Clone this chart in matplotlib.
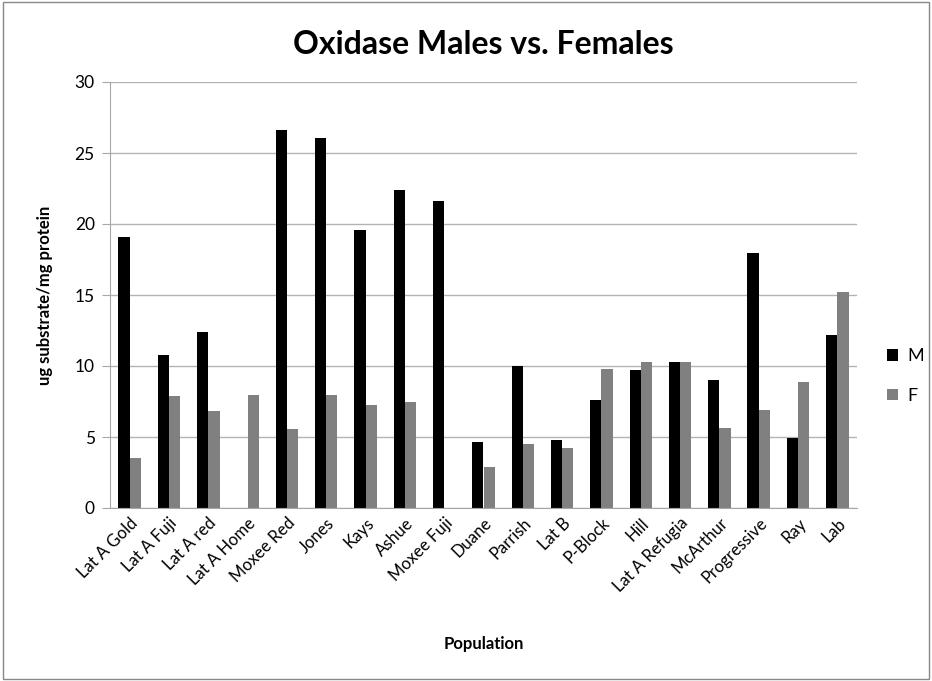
import numpy as np
import matplotlib.pyplot as plt
from matplotlib.patches import Rectangle

plt.rcParams['font.family'] = ['Lato', 'DejaVu Sans']

populations = ["Lat A Gold", "Lat A Fuji", "Lat A red", "Lat A Home", "Moxee Red",
               "Jones", "Kays", "Ashue", "Moxee Fuji", "Duane", "Parrish", "Lat B",
               "P-Block", "Hill", "Lat A Refugia", "McArthur", "Progressive", "Ray", "Lab"]
males = [19.06, 10.77, 12.37, 0, 26.61, 26.07, 19.56, 22.42, 21.61, 4.67,
         10.03, 4.77, 7.58, 9.70, 10.25, 9.01, 17.97, 4.91, 12.18]
females = [3.53, 7.89, 6.81, 7.96, 5.58, 7.96, 7.22, 7.50, 0, 2.91,
           4.48, 4.26, 9.82, 10.29, 10.29, 5.65, 6.89, 8.89, 15.23]

fig = plt.figure(figsize=(9.32, 6.81), dpi=100)
ax = fig.add_axes([110 / 932, 1 - 508 / 681, 747 / 932, 426 / 681])

x = np.arange(len(populations))
w = 0.286
ax.bar(x - w / 2, males, w, color="black", label="M")
ax.bar(x + w / 2, females, w, color="#808080", label="F")

ax.set_xlim(-0.5, len(populations) - 0.5)
ax.set_ylim(0, 30)
ax.set_yticks(range(0, 31, 5))
ax.yaxis.grid(True, color="#b3b3b3", linewidth=1)
ax.set_axisbelow(True)
for s in ["top", "right"]:
    ax.spines[s].set_visible(False)
ax.spines["left"].set_color("#a6a6a6")
ax.spines["bottom"].set_color("#a6a6a6")
ax.tick_params(axis="y", length=6, color="#a6a6a6", labelsize=12.5, pad=5)
ax.tick_params(axis="x", length=0, pad=5)
ax.set_xticks(x)
ax.set_xticklabels(populations, rotation=45, ha="right", rotation_mode="anchor", fontsize=12)

ax.set_title("Oxidase Males vs. Females", fontsize=23, fontweight="bold", pad=20)
ax.set_ylabel("ug substrate/mg protein", fontsize=12, fontweight="bold")
ax.yaxis.set_label_coords(-57 / 747, 0.5)
ax.set_xlabel("Population", fontsize=12, fontweight="bold")
ax.xaxis.set_label_coords(0.5, -128 / 426)

fig.legend(loc="center left", bbox_to_anchor=(878 / 932, 1 - 376 / 681), frameon=False,
           fontsize=13, handlelength=0.6, handleheight=0.6, handletextpad=0.5,
           labelspacing=1.3, borderpad=0)

fig.patches.append(Rectangle((0.003, 0.003), 0.994, 0.994, transform=fig.transFigure,
                             fill=False, edgecolor="#888888", linewidth=1))

fig.savefig("out.png", dpi=100)
